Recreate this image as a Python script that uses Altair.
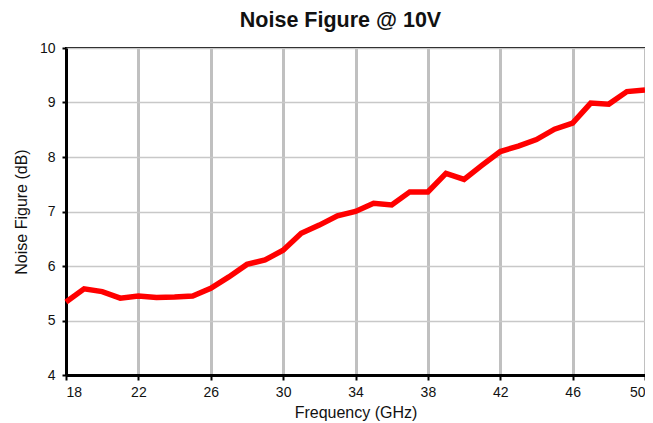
import altair as alt
import pandas as pd

freq = list(range(18, 51))
nf = [5.34, 5.58, 5.53, 5.41, 5.45, 5.42, 5.43, 5.45, 5.59, 5.80,
      6.03, 6.11, 6.29, 6.60, 6.75, 6.92, 7.00, 7.15, 7.12, 7.36,
      7.36, 7.70, 7.59, 7.85, 8.10, 8.20, 8.32, 8.51, 8.62, 8.99,
      8.97, 9.20, 9.23]
x_ticks = [18, 22, 26, 30, 34, 38, 42, 46, 50]
y_ticks = [4, 5, 6, 7, 8, 9, 10]

df = pd.DataFrame({"freq": freq, "nf": nf})
FONT = "Liberation Sans"

line = alt.Chart(df).mark_line(color="#ff0000", strokeWidth=5.5, strokeJoin="miter").encode(
    x=alt.X("freq:Q",
            scale=alt.Scale(domain=[18, 50], nice=False, zero=False),
            axis=alt.Axis(values=x_ticks, title="Frequency (GHz)",
                          grid=True, gridColor="#c0c0c0", gridWidth=3,
                          domainColor="black", domainWidth=3,
                          tickColor="black", tickWidth=2, tickSize=5,
                          labelFontSize=14, labelColor="#111", labelPadding=5,
                          titleFontSize=16, titleFontWeight="normal", titleColor="#111",
                          titlePadding=5)),
    y=alt.Y("nf:Q",
            scale=alt.Scale(domain=[4, 10], nice=False, zero=False),
            axis=alt.Axis(values=y_ticks, title="Noise Figure (dB)",
                          grid=True, gridColor="#c8c8c8", gridWidth=1.5,
                          domainColor="black", domainWidth=3,
                          tickColor="black", tickWidth=2, tickSize=4,
                          labelFontSize=14, labelColor="#111", labelPadding=7,
                          titleFontSize=16, titleFontWeight="normal", titleColor="#111",
                          titlePadding=10)),
)

chart = line.properties(
    width=579, height=327,
    title=alt.TitleParams("Noise Figure @ 10V", fontSize=21.5, fontWeight="bold",
                          font=FONT, color="#111", anchor="middle", offset=10, dx=-15),
    autosize=alt.AutoSizeParams(type="none"),
    padding={"left": 58, "top": 40, "right": 0, "bottom": 48},
).configure(font=FONT).configure_view(stroke="black", strokeWidth=2).configure_axis(
    labelFont=FONT, titleFont=FONT
)

chart.save("out.html", embed_options={"renderer": "svg", "actions": False})
